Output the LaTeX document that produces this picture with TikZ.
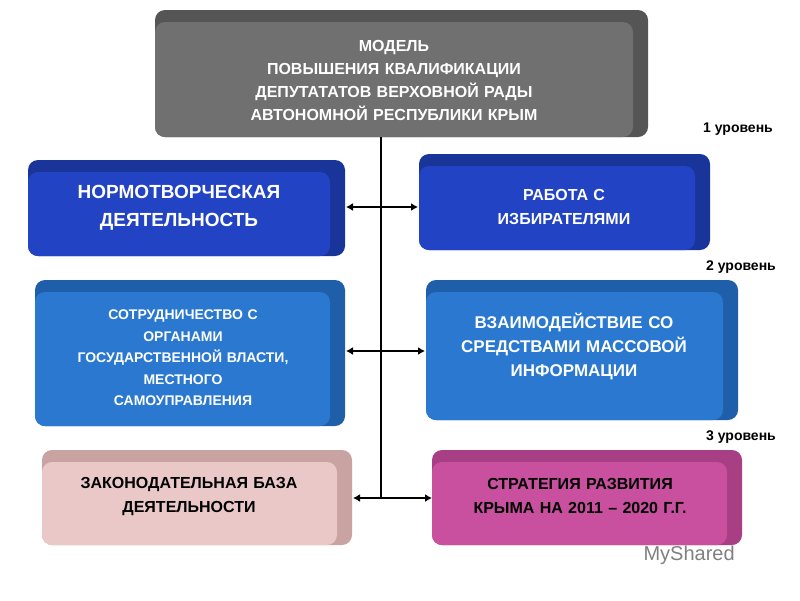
\documentclass[tikz,border=0pt]{standalone}
\usepackage{fontspec}
\setmainfont{Liberation Sans}
\usetikzlibrary{arrows.meta}
\begin{document}
\begin{tikzpicture}[x=1pt,y=-1pt,
 txt/.style={font=\bfseries, align=center, text width=#1, inner sep=0pt},
 conn/.style={line width=2pt,{Latex[length=7pt,width=8pt]}-{Latex[length=7pt,width=8pt]}}]
\useasboundingbox (0,0) rectangle (800,600);
\fill[white] (0,0) rectangle (800,600);
\definecolor{gA}{HTML}{707070}\definecolor{gB}{HTML}{555555}
\definecolor{bA}{HTML}{2244C4}\definecolor{bB}{HTML}{1A3599}
\definecolor{cA}{HTML}{2A78CF}\definecolor{cB}{HTML}{1F5EA8}
\definecolor{pA}{HTML}{EAC8C8}\definecolor{pB}{HTML}{C9A2A2}
\definecolor{mA}{HTML}{C8509F}\definecolor{mB}{HTML}{A83E84}
\newcommand\pbox[6]{%
 \fill[#6,rounded corners=10pt] (#1,#2) rectangle (#3,#4);
 \fill[#5,rounded corners=10pt] (#1,#2+12) rectangle (#3-15,#4);}
\pbox{155}{10}{648}{137}{gA}{gB}
\pbox{28}{160}{345}{256}{bA}{bB}
\pbox{419}{154}{710}{250}{bA}{bB}
\pbox{35}{280}{345}{426}{cA}{cB}
\pbox{426}{280}{738}{420}{cA}{cB}
\pbox{42}{450}{352}{545}{pA}{pB}
\pbox{432}{450}{742}{545}{mA}{mB}
\node[txt=460pt,text=white,font=\bfseries\fontsize{16}{23}\selectfont] (top) at (394,80) {МОДЕЛЬ\\ПОВЫШЕНИЯ КВАЛИФИКАЦИИ\\ДЕПУТАТАТОВ ВЕРХОВНОЙ РАДЫ\\АВТОНОМНОЙ РЕСПУБЛИКИ КРЫМ};
\node[txt=290pt,text=white,font=\bfseries\fontsize{19}{28}\selectfont] (n1) at (179,208) {НОРМОТВОРЧЕСКАЯ\\ДЕЯТЕЛЬНОСТЬ};
\node[txt=270pt,text=white,font=\bfseries\fontsize{16}{24}\selectfont] (n2) at (564,207) {РАБОТА С\\ИЗБИРАТЕЛЯМИ};
\node[txt=300pt,text=white,font=\bfseries\fontsize{14}{21.5}\selectfont] (n3) at (183,358) {СОТРУДНИЧЕСТВО С\\ОРГАНАМИ\\ГОСУДАРСТВЕННОЙ ВЛАСТИ,\\МЕСТНОГО\\САМОУПРАВЛЕНИЯ};
\node[txt=300pt,text=white,font=\bfseries\fontsize{17}{24}\selectfont] (n4) at (574,346) {ВЗАИМОДЕЙСТВИЕ СО\\СРЕДСТВАМИ МАССОВОЙ\\ИНФОРМАЦИИ};
\node[txt=300pt,text=black,font=\bfseries\fontsize{16}{24}\selectfont] (n5) at (189,496) {ЗАКОНОДАТЕЛЬНАЯ БАЗА\\ДЕЯТЕЛЬНОСТИ};
\node[txt=300pt,text=black,font=\bfseries\fontsize{16}{24}\selectfont] (n6) at (580,496) {СТРАТЕГИЯ РАЗВИТИЯ\\КРЫМА НА 2011 – 2020 Г.Г.};
\coordinate (t) at (381,137);
\coordinate (b) at (381,498);
\draw[line width=2pt] (t) -- (b);
\coordinate (a1) at (346,207); \coordinate (a2) at (418,207);
\coordinate (c1) at (346,351); \coordinate (c2) at (425,351);
\coordinate (d1) at (353,498); \coordinate (d2) at (432,498);
\draw[conn] (a1) -- (a2);
\draw[conn] (c1) -- (c2);
\draw[conn] (d1) -- (d2);
\node[font=\bfseries\fontsize{14}{16}\selectfont] (l1) at (738,129) {1 уровень};
\node[font=\bfseries\fontsize{14}{16}\selectfont] (l2) at (741,267) {2 уровень};
\node[font=\bfseries\fontsize{14}{16}\selectfont] (l3) at (741,437) {3 уровень};
\node[text=gray,font=\fontsize{20}{22}\selectfont,anchor=west] (ms) at (640,555) {MyShared};
\end{tikzpicture}
\end{document}
